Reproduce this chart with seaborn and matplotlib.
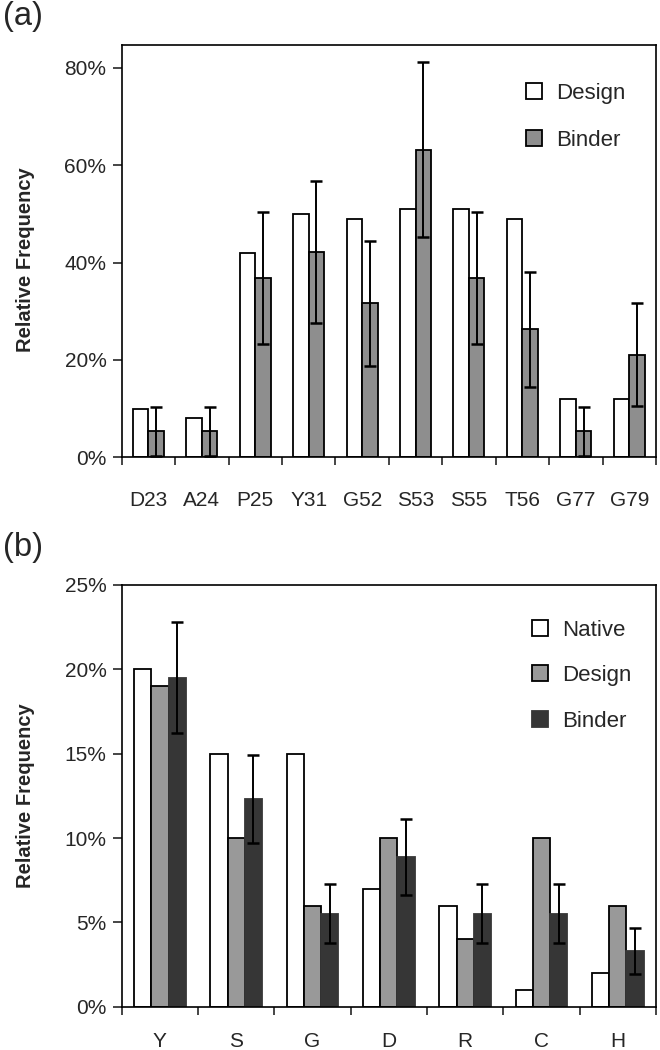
import pandas as pd
import matplotlib
matplotlib.use("Agg")
import matplotlib.pyplot as plt
from matplotlib.ticker import PercentFormatter, FixedLocator, MultipleLocator
import seaborn as sns

# (a) frequency at each site
sites = ["D23", "A24", "P25", "Y31", "G52", "S53", "S55", "T56", "G77", "G79"]
design_a = [10, 8, 42, 50, 49, 51, 51, 49, 12, 12]
binder_a = [5.3, 5.3, 36.8, 42.1, 31.6, 63.2, 36.8, 26.3, 5.3, 21.1]
binder_a_err = [5.1, 5.1, 13.6, 14.6, 12.8, 18.0, 13.6, 11.8, 5.1, 10.5]

# (b) amino acid composition
residues = ["Y", "S", "G", "D", "R", "C", "H"]
native_b = [20, 15, 15, 7, 6, 1, 2]
design_b = [19, 10, 6, 10, 4, 10, 6]
binder_b = [19.5, 12.3, 5.5, 8.9, 5.5, 5.5, 3.3]
binder_b_err = [3.3, 2.6, 1.75, 2.25, 1.75, 1.75, 1.35]

sns.set_style("ticks")
plt.rcParams["font.family"] = ["Liberation Sans", "DejaVu Sans"]
plt.rcParams["axes.linewidth"] = 1.2

df_a = pd.DataFrame({
    "site": sites * 2,
    "set": ["Design"] * len(sites) + ["Binder"] * len(sites),
    "freq": design_a + binder_a,
})
df_b = pd.DataFrame({
    "res": residues * 3,
    "set": ["Native"] * 7 + ["Design"] * 7 + ["Binder"] * 7,
    "freq": native_b + design_b + binder_b,
})

fig = plt.figure(figsize=(6.6, 10.5), dpi=100)
ax1 = fig.add_axes([0.1844, 0.5645, 0.8095, 0.3926])
ax2 = fig.add_axes([0.1844, 0.0412, 0.8095, 0.4017])


def style_axis(ax, n, ymax, step, pad, ylab_y):
    ax.set_xlim(-0.5, n - 0.5)
    ax.set_ylim(0, ymax)
    ax.yaxis.set_major_locator(MultipleLocator(step))
    ax.yaxis.set_major_formatter(PercentFormatter(decimals=0))
    ax.xaxis.set_minor_locator(FixedLocator([i - 0.5 for i in range(n + 1)]))
    ax.tick_params(axis="x", which="major", length=0, pad=pad, labelsize=15)
    ax.tick_params(axis="x", which="minor", length=5.5, width=1.2, direction="out")
    ax.tick_params(axis="y", length=6.5, width=1.2, pad=4.5, labelsize=15)
    ax.set_xlabel("")
    ax.set_ylabel("Relative Frequency", fontsize=14.5, fontweight="bold")
    ax.yaxis.set_label_coords(-0.163, ylab_y)
    for s in ax.spines.values():
        s.set_linewidth(1.2)
        s.set_color("black")


def add_err(ax, container, vals, errs):
    xs = [p.get_x() + p.get_width() / 2 for p in container]
    ax.errorbar(xs, vals, yerr=errs, fmt="none", ecolor="black",
                elinewidth=1.4, capsize=4, capthick=1.8, zorder=5)


# panel (a)
sns.barplot(data=df_a, x="site", y="freq", hue="set", hue_order=["Design", "Binder"],
            palette={"Design": "white", "Binder": "#8e8e8e"}, width=0.58, gap=0,
            edgecolor="black", linewidth=1.3, errorbar=None, legend=False, ax=ax1)
add_err(ax1, ax1.containers[1], binder_a, binder_a_err)
style_axis(ax1, len(sites), 84.7, 20, 24.5, 0.48)
ax1.legend(ax1.containers, ["Design", "Binder"], loc="upper left",
           bbox_to_anchor=(0.736, 0.935), frameon=False, fontsize=16,
           handlelength=0.72, handleheight=0.72, handletextpad=0.63,
           labelspacing=1.15, borderpad=0)

# panel (b)
sns.barplot(data=df_b, x="res", y="freq", hue="set", hue_order=["Native", "Design", "Binder"],
            palette={"Native": "white", "Design": "#999999", "Binder": "#363636"},
            width=0.68, gap=0, edgecolor="black", linewidth=1.3, errorbar=None,
            legend=False, ax=ax2)
for p in ax2.containers[2]:
    p.set_edgecolor("#363636")
add_err(ax2, ax2.containers[2], binder_b, binder_b_err)
style_axis(ax2, len(residues), 25, 5, 18, 0.5)
ax2.legend(ax2.containers, ["Native", "Design", "Binder"], loc="upper left",
           bbox_to_anchor=(0.748, 0.944), frameon=False, fontsize=16,
           handlelength=0.72, handleheight=0.72, handletextpad=0.63,
           labelspacing=1.1, borderpad=0)

fig.text(0.004, 0.999, "(a)", fontsize=23.5, va="top", ha="left")
fig.text(0.004, 0.493, "(b)", fontsize=23.5, va="top", ha="left")

fig.savefig("out.png", dpi=100)
